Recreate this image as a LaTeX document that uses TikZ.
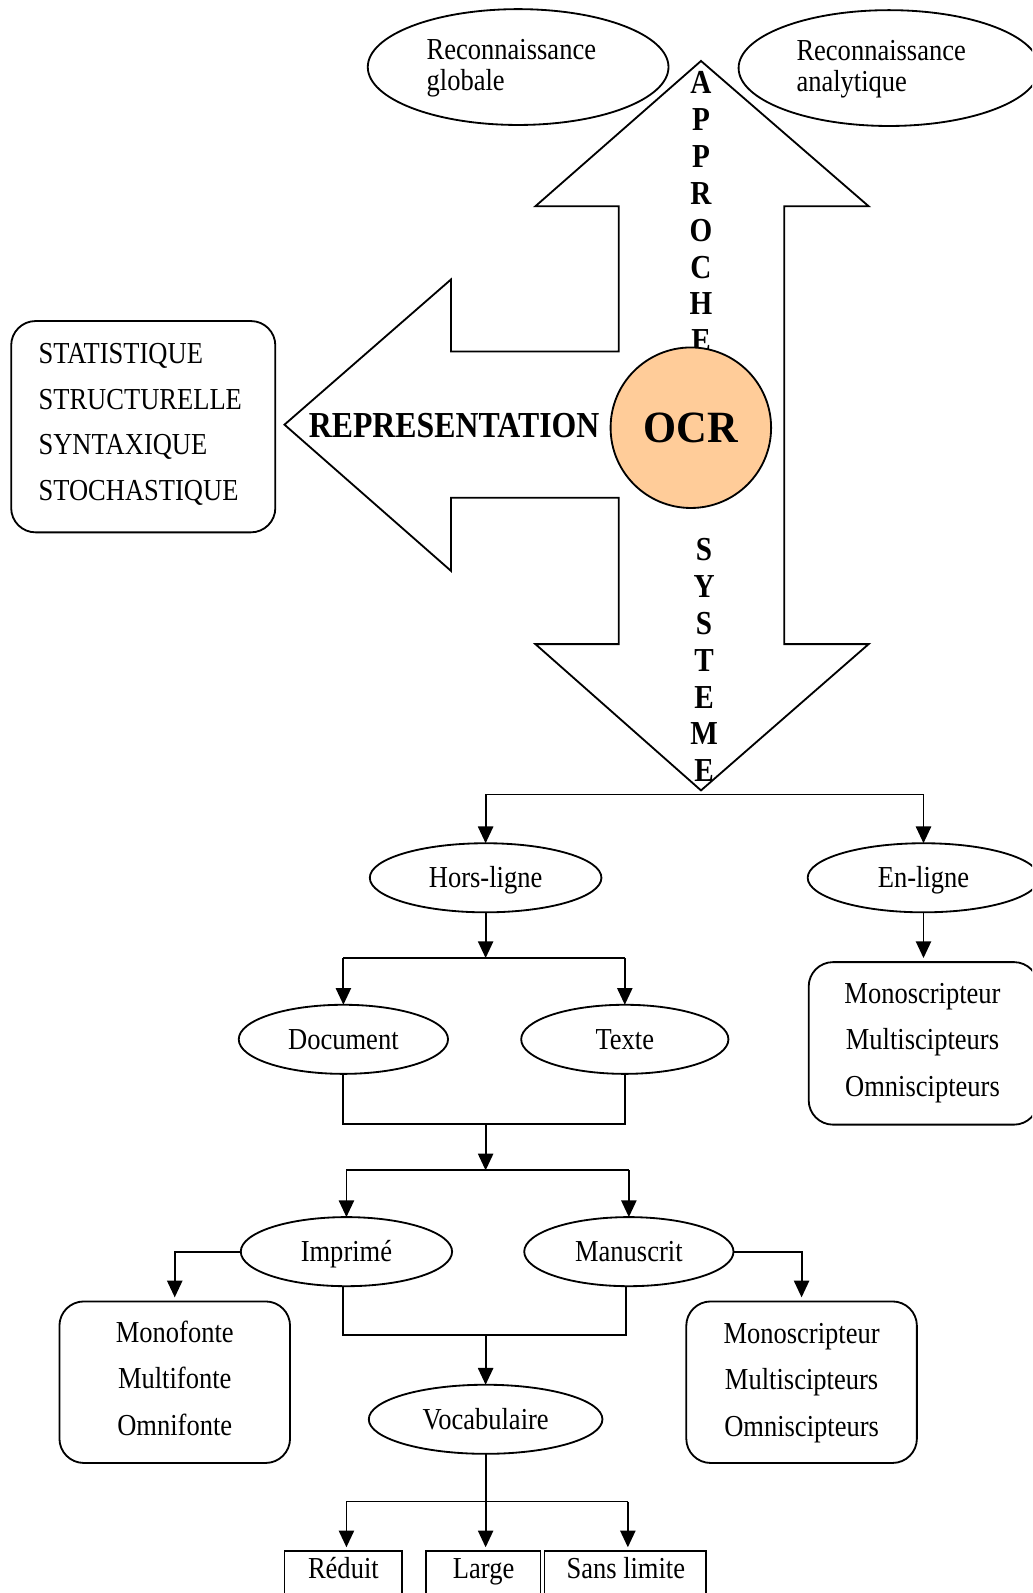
\documentclass[tikz,border=0pt]{standalone}
\usepackage{fontspec}
\setmainfont{Liberation Serif}[FakeStretch=0.87]
\newfontfamily\ocrfont{Liberation Serif}[FakeStretch=0.95]
\usetikzlibrary{shapes.geometric, arrows.meta}
\definecolor{ocrfill}{HTML}{FFCC99}

\begin{document}
\begin{tikzpicture}[x=1pt, y=-1pt, line width=1.8pt, line join=miter,
  every node/.style={inner sep=0pt, outer sep=0pt},
  lbl/.style={font=\fontsize{30}{36}\selectfont, text height=19.6pt, text depth=0pt},
  vlet/.style={font=\bfseries\fontsize{33}{36}\selectfont, text height=22.3pt, text depth=0pt},
  oval/.style={ellipse, draw, fill=white, lbl},
  card/.style={draw, rounded corners=24pt, fill=white},
  plainbox/.style={draw, fill=white},
  conn/.style={-{Triangle[length=16.5pt, width=15pt]}},
]
\useasboundingbox (0,0) rectangle (1016,1568);
\clip (0,0) rectangle (1016,1568);
\fill[white] (0,0) rectangle (1016,1568);

% recognition approaches
\node[oval, minimum width=296, minimum height=114] (glob) at (510,66) {};
\node[lbl, anchor=west] (glob1) at (420,49) {Reconnaissance};
\node[lbl, anchor=west] (glob2) at (420,79) {globale};
\node[oval, minimum width=296, minimum height=114] (anal) at (875,67) {};
\node[lbl, anchor=west] (anal1) at (784,50) {Reconnaissance};
\node[lbl, anchor=west] (anal2) at (784,80) {analytique};

% the three-headed arrow around the OCR system
\draw[fill=white] (690,60) -- (855,203) -- (772,203) -- (772,634) -- (855,634)
  -- (690,778) -- (527,634) -- (609,634) -- (609,490) -- (444,490) -- (444,562)
  -- (280,418) -- (444,275) -- (444,346) -- (609,346) -- (609,203) -- (527,203) -- cycle;

\foreach \ch [count=\i from 0] in {A,P,P,R,O,C,H,E}
  \node[vlet] (ap\i) at (690,{81+36.3*\i}) {\ch};
\foreach \ch [count=\i from 0] in {S,Y,S,T,E,M,E}
  \node[vlet] (sy\i) at (693,{541+36.2*\i}) {\ch};

\node[circle, draw, fill=ocrfill, minimum size=158pt,
      font=\ocrfont\bfseries\fontsize{44}{48}\selectfont, text height=29.7pt, text depth=0pt]
  (ocr) at (680,421) {OCR};
\node[font=\bfseries\fontsize{36}{40}\selectfont, text height=24.3pt, text depth=0pt]
  (repr) at (447,418) {REPRESENTATION};

% representation methods
\node[card, minimum width=260pt, minimum height=208pt] (meth) at (141,420) {};
\foreach \t [count=\i from 0] in {STATISTIQUE,STRUCTURELLE,SYNTAXIQUE,STOCHASTIQUE}
  \node[lbl, anchor=west] (meth\i) at (38,{348+45*\i}) {\t};

% system tree
\coordinate (b1l) at (478,782);
\coordinate (b1r) at (909,782);
\node[oval, minimum width=228pt, minimum height=68pt] (hors) at (478,864) {Hors-ligne};
\node[oval, minimum width=228pt, minimum height=68pt] (enl) at (909,864) {En-ligne};
\draw (b1l) -- (b1r);
\draw[conn] (b1l) -- (hors.north);
\draw[conn] (b1r) -- (enl.north);

\node[card, minimum width=226pt, minimum height=160pt] (encard) at (909,1027) {};
\foreach \t/\y [count=\i] in {Monoscripteur/978,Multiscipteurs/1023,Omniscipteurs/1069}
  \node[lbl] (enc\i) at (908,\y) {\t};
\draw[conn, shorten >=4pt] (enl.south) -- (encard.north);

\coordinate (b2m) at (478,943);
\coordinate (b2l) at (338,943);
\coordinate (b2r) at (615,943);
\node[oval, minimum width=206pt, minimum height=68pt] (doc) at (338,1023) {Document};
\node[oval, minimum width=204pt, minimum height=68pt] (texte) at (615,1023) {Texte};
\draw[conn] (hors.south) -- (b2m);
\draw (b2l) -- (b2r);
\draw[conn] (b2l) -- (doc.north);
\draw[conn] (b2r) -- (texte.north);

\coordinate (b3l) at (338,1106);
\coordinate (b3r) at (615,1106);
\coordinate (b3m) at (478,1106);
\draw (doc.south) -- (b3l) -- (b3r) -- (texte.south);

\coordinate (b4m) at (478,1152);
\coordinate (b4l) at (341,1152);
\coordinate (b4r) at (619,1152);
\node[oval, minimum width=208pt, minimum height=68pt] (imp) at (341,1232) {Imprimé};
\node[oval, minimum width=206pt, minimum height=68pt] (man) at (619,1232) {Manuscrit};
\draw[conn] (b3m) -- (b4m);
\draw (b4l) -- (b4r);
\draw[conn] (b4l) -- (imp.north);
\draw[conn] (b4r) -- (man.north);

\node[card, minimum width=227pt, minimum height=159pt] (fontcard) at (172,1360.5) {};
\foreach \t/\y [count=\i] in {Monofonte/1312,Multifonte/1357,Omnifonte/1403}
  \node[lbl] (fc\i) at (172,\y) {\t};
\node[card, minimum width=227pt, minimum height=159pt] (scripcard) at (789,1360.5) {};
\foreach \t/\y [count=\i] in {Monoscripteur/1313,Multiscipteurs/1358,Omniscipteurs/1404}
  \node[lbl] (sc\i) at (789,\y) {\t};
\coordinate (impc) at (172,1232);
\coordinate (manc) at (789,1232);
\draw[conn, shorten >=4pt] (imp.west) -- (impc) -- (fontcard.north);
\draw[conn, shorten >=4pt] (man.east) -- (manc) -- (scripcard.north);

\coordinate (b5l) at (338,1314);
\coordinate (b5r) at (616,1314);
\coordinate (b5m) at (478,1314);
\node[oval, minimum width=230pt, minimum height=68pt] (voc) at (478,1397) {Vocabulaire};
\draw (b5l |- imp.south) -- (b5l) -- (b5r) -- (b5r |- man.south);
\draw[conn] (b5m) -- (voc.north);

% vocabulary sizes
\node[plainbox, anchor=north, minimum width=116pt, minimum height=100pt] (red) at (338,1527) {};
\node[plainbox, anchor=north, minimum width=113pt, minimum height=100pt] (large) at (475.5,1527) {};
\node[plainbox, anchor=north, minimum width=159pt, minimum height=100pt] (sans) at (615.5,1527) {};
\node[lbl] (redt) at (338,1544) {Réduit};
\node[lbl] (larget) at (476,1544) {Large};
\node[lbl] (sanst) at (616,1544) {Sans limite};
\coordinate (b6l) at (341,1478);
\coordinate (b6r) at (618,1478);
\draw (b6l) -- (b6r);
\draw[conn, shorten >=4pt] (voc.south) -- (voc.south |- large.north);
\draw[conn, shorten >=4pt] (b6l) -- (b6l |- red.north);
\draw[conn, shorten >=4pt] (b6r) -- (b6r |- sans.north);
\end{tikzpicture}
\end{document}
